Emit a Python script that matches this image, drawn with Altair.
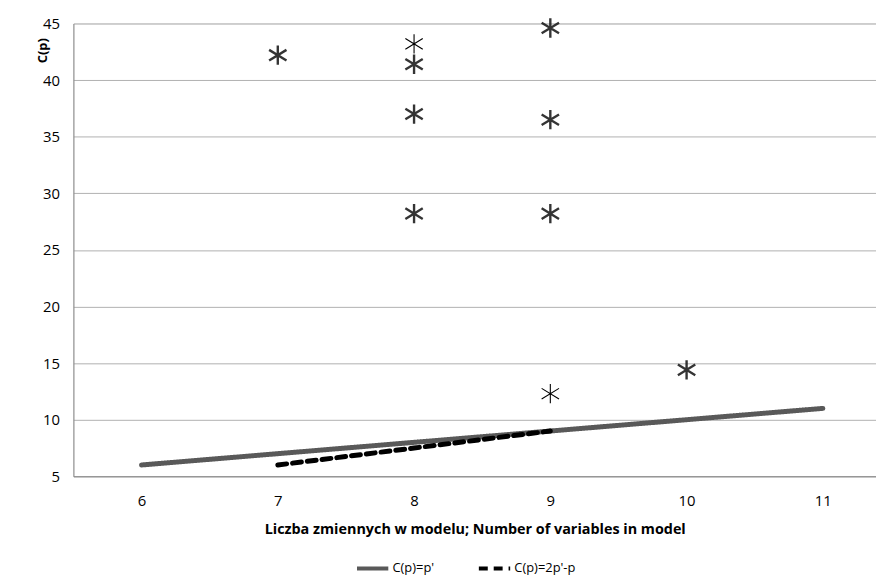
import altair as alt
import pandas as pd

# Data
pt_x = [7, 8, 8, 8, 8, 9, 9, 9, 9, 10]
pt_y = [42.2, 43.2, 41.4, 37.0, 28.2, 44.6, 36.5, 28.2, 12.3, 14.4]
pt_style = ["thick", "thin", "thick", "thick", "thick", "thick", "thick", "thick", "thin", "thick"]

line1_x = [6, 7, 8, 9, 10, 11]
line1_y = [6, 7, 8, 9, 10, 11]
line2_x = [7, 8, 9]
line2_y = [6, 7.5, 9]

series_names = ["C(p)=p'", "C(p)=2p'-p"]
y_ticks = [5, 10, 15, 20, 25, 30, 35, 40, 45]
x_ticks = [6, 7, 8, 9, 10, 11]

pts = pd.DataFrame({"x": pt_x, "y": pt_y, "style": pt_style})
lines = pd.DataFrame({
    "x": line1_x + line2_x,
    "y": line1_y + line2_y,
    "series": [series_names[0]] * len(line1_x) + [series_names[1]] * len(line2_x),
})

FONT = "Open Sans"
STAR = "M0,-1L0,1M-0.9,-0.55L0.9,0.55M-0.9,0.55L0.9,-0.55"

xscale = alt.Scale(domain=[5.5, 11.39], nice=False, zero=False)
yscale = alt.Scale(domain=[5, 45], nice=False, zero=False)

xenc = alt.X("x:Q", scale=xscale,
             axis=alt.Axis(values=x_ticks, format="d",
                           title="Liczba zmiennych w modelu; Number of variables in model",
                           grid=False, ticks=False, domain=True, domainColor="#868686",
                           labelFont=FONT, labelFontSize=15, labelColor="#000000", labelPadding=17,
                           titleFont=FONT, titleFontSize=14.5, titleFontWeight="bold", titleColor="#000000",
                           titlePadding=15))
yenc = alt.Y("y:Q", scale=yscale,
             axis=alt.Axis(values=y_ticks, format="d", title="C(p)", grid=True, gridColor="#b0b0b0",
                           gridWidth=1, ticks=False, domain=True, domainColor="#868686",
                           labelFont=FONT, labelFontSize=15, labelColor="#000000", labelPadding=14,
                           titleFont=FONT, titleFontSize=13, titleFontWeight="bold", titleColor="#000000",
                           titleAngle=-90, titleX=-31, titleY=27, titleAlign="center",
                           titleBaseline="middle"))

line_chart = alt.Chart(lines).mark_line(strokeCap="round", strokeWidth=5).encode(
    x=xenc, y=yenc,
    color=alt.Color("series:N", scale=alt.Scale(domain=series_names, range=["#595959", "#000000"]),
                    legend=alt.Legend(title=None, orient="none", direction="horizontal",
                                      legendX=284, legendY=532, symbolType="stroke",
                                      symbolStrokeWidth=4, symbolSize=1000, columnPadding=36,
                                      labelFont=FONT, labelFontSize=13, labelColor="#000000",
                                      labelOffset=2)),
    strokeDash=alt.StrokeDash("series:N",
                              scale=alt.Scale(domain=series_names, range=[[1, 0], [9, 6]]),
                              legend=None),
)

thick = alt.Chart(pts).transform_filter(alt.datum.style == "thick").mark_point(
    shape=STAR, filled=False, size=380, strokeWidth=2.4, color="#1f1f1f", opacity=0.9
).encode(x="x:Q", y="y:Q")

thin = alt.Chart(pts).transform_filter(alt.datum.style == "thin").mark_point(
    shape=STAR, filled=False, size=380, strokeWidth=1.1, color="#000000", opacity=1
).encode(x="x:Q", y="y:Q")

chart = alt.layer(line_chart, thick, thin).properties(
    width=810, height=457,
    autosize=alt.AutoSizeParams(type="none"),
    padding={"left": 66, "top": 13, "right": 0, "bottom": 99},
).configure_view(stroke=None).configure(background="#ffffff")

chart.save("out.html", embed_options={"renderer": "svg", "actions": False})
